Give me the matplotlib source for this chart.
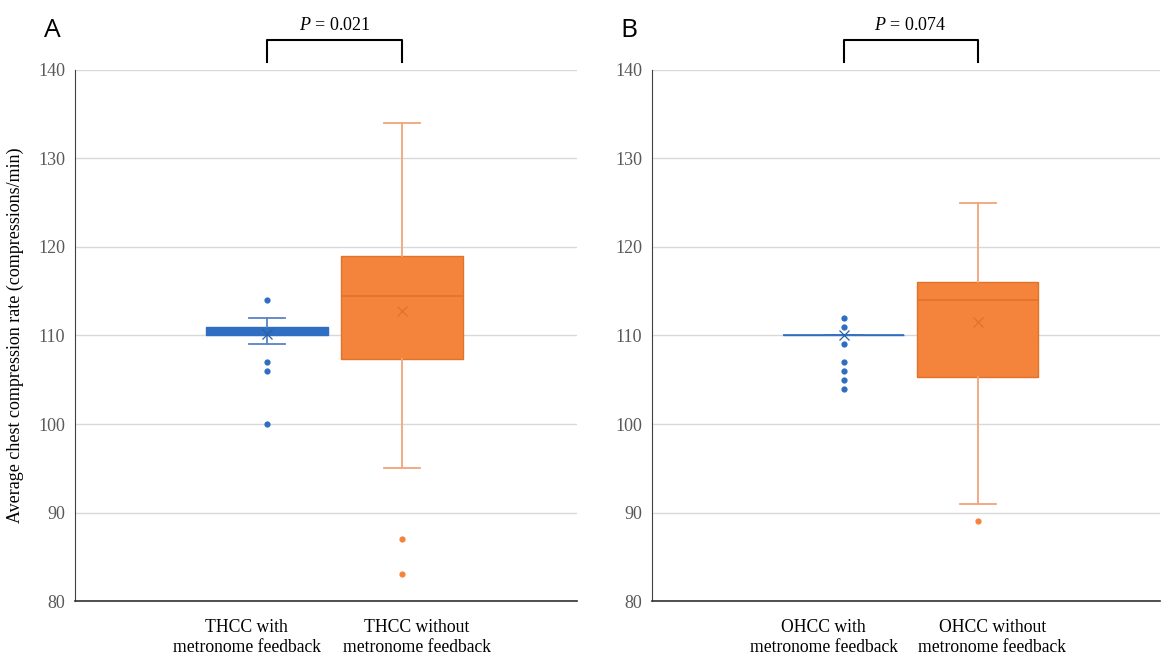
import matplotlib.pyplot as plt

# datos (compresiones/min)
etiquetas_a = ["THCC with\nmetronome feedback", "THCC without\nmetronome feedback"]
etiquetas_b = ["OHCC with\nmetronome feedback", "OHCC without\nmetronome feedback"]

# [whislo, q1, med, q3, whishi, media]
thcc_con = [109, 110, 110, 111, 112, 110.2]
thcc_sin = [95, 107.3, 114.5, 119, 134, 112.8]
ohcc_con = [110, 110, 110, 110, 110, 110]
ohcc_sin = [91, 105.3, 114, 116, 125, 111.5]

out_thcc_con = [114, 107, 106, 100]
out_thcc_sin = [87, 83]
out_ohcc_con = [112, 111, 109, 107, 106, 105, 104]
out_ohcc_sin = [89]

p_a = "0.021"
p_b = "0.074"

azul = "#2F6EC2"
azul_lin = "#5A82C8"
naranja = "#F4843C"
naranja_borde = "#E2712A"
naranja_lin = "#F2A57A"

serif = "Liberation Serif"


def stats(v, fliers, label):
    return dict(whislo=v[0], q1=v[1], med=v[2], q3=v[3], whishi=v[4],
                mean=v[5], fliers=fliers, label=label)


def panel(ax, datos, outs, etiquetas, p, letra):
    colores = [(azul, azul, azul_lin), (naranja, naranja_borde, naranja_lin)]
    for i, (d, o) in enumerate(zip(datos, outs)):
        relleno, borde, linea = colores[i]
        ax.bxp([stats(d, o, etiquetas[i])], positions=[i + 1], widths=0.9,
               patch_artist=True, showmeans=True, showfliers=True,
               boxprops=dict(facecolor=relleno, edgecolor=borde, linewidth=1),
               medianprops=dict(color=borde, linewidth=1.2),
               whiskerprops=dict(color=linea, linewidth=1.3),
               capprops=dict(color=linea, linewidth=1.3),
               capwidths=0.27,
               meanprops=dict(marker="x", markeredgecolor=borde if i else "#2A5FA8",
                              markersize=7, markeredgewidth=0.9),
               flierprops=dict(marker="o", markerfacecolor=relleno,
                               markeredgecolor="none", markersize=4.5))
    ax.set_ylim(80, 140)
    ax.set_yticks(range(80, 141, 10))
    # en el original las etiquetas no quedan justo bajo las cajas
    ax.set_xticks([1 - 0.15, 2 + 0.11])
    ax.set_xticklabels(etiquetas, fontfamily=serif, fontsize=12.7, color="black",
                       linespacing=1.25)
    for t in ax.get_yticklabels():
        t.set_fontfamily(serif)
        t.set_fontsize(13)
        t.set_color("#595959")
    ax.tick_params(axis="both", length=0, pad=7)
    ax.tick_params(axis="x", pad=13)
    ax.grid(axis="y", color="#D9D9D9", linewidth=1)
    ax.set_axisbelow(True)
    for s in ["top", "right"]:
        ax.spines[s].set_visible(False)
    ax.spines["left"].set_color("#404040")
    ax.spines["bottom"].set_color("#303030")
    ax.spines["bottom"].set_linewidth(1.2)

    # corchete de significancia
    ax.plot([1, 1, 2, 2], [140.9, 143.4, 143.4, 140.9], color="black",
            linewidth=1.5, clip_on=False)
    ax.text(1.5, 145.0, "$\\it{P}$ = " + p, ha="center", va="center",
            fontfamily=serif, fontsize=13, clip_on=False)
    ax.text(-0.045, 1.074, letra, transform=ax.transAxes, fontsize=19,
            fontfamily="Open Sans", ha="center", va="center")


plt.rcParams["mathtext.fontset"] = "custom"
plt.rcParams["mathtext.it"] = "Liberation Serif:italic"
plt.rcParams["mathtext.rm"] = "Liberation Serif"

fig = plt.figure(figsize=(11.68, 6.57), dpi=100)
ax1 = fig.add_axes([0.0642, 0.0852, 0.430, 0.8083])
ax2 = fig.add_axes([0.5582, 0.0852, 0.435, 0.8083])

panel(ax1, [thcc_con, thcc_sin], [out_thcc_con, out_thcc_sin], etiquetas_a, p_a, "A")
panel(ax2, [ohcc_con, ohcc_sin], [out_ohcc_con, out_ohcc_sin], etiquetas_b, p_b, "B")
ax1.set_xlim(-0.422, 3.296)
ax2.set_xlim(-0.43, 3.36)

ax1.set_ylabel("Average chest compression rate (compressions/min)",
               fontfamily=serif, fontsize=13, labelpad=10)

fig.savefig("out.png", dpi=100)
plt.close()
